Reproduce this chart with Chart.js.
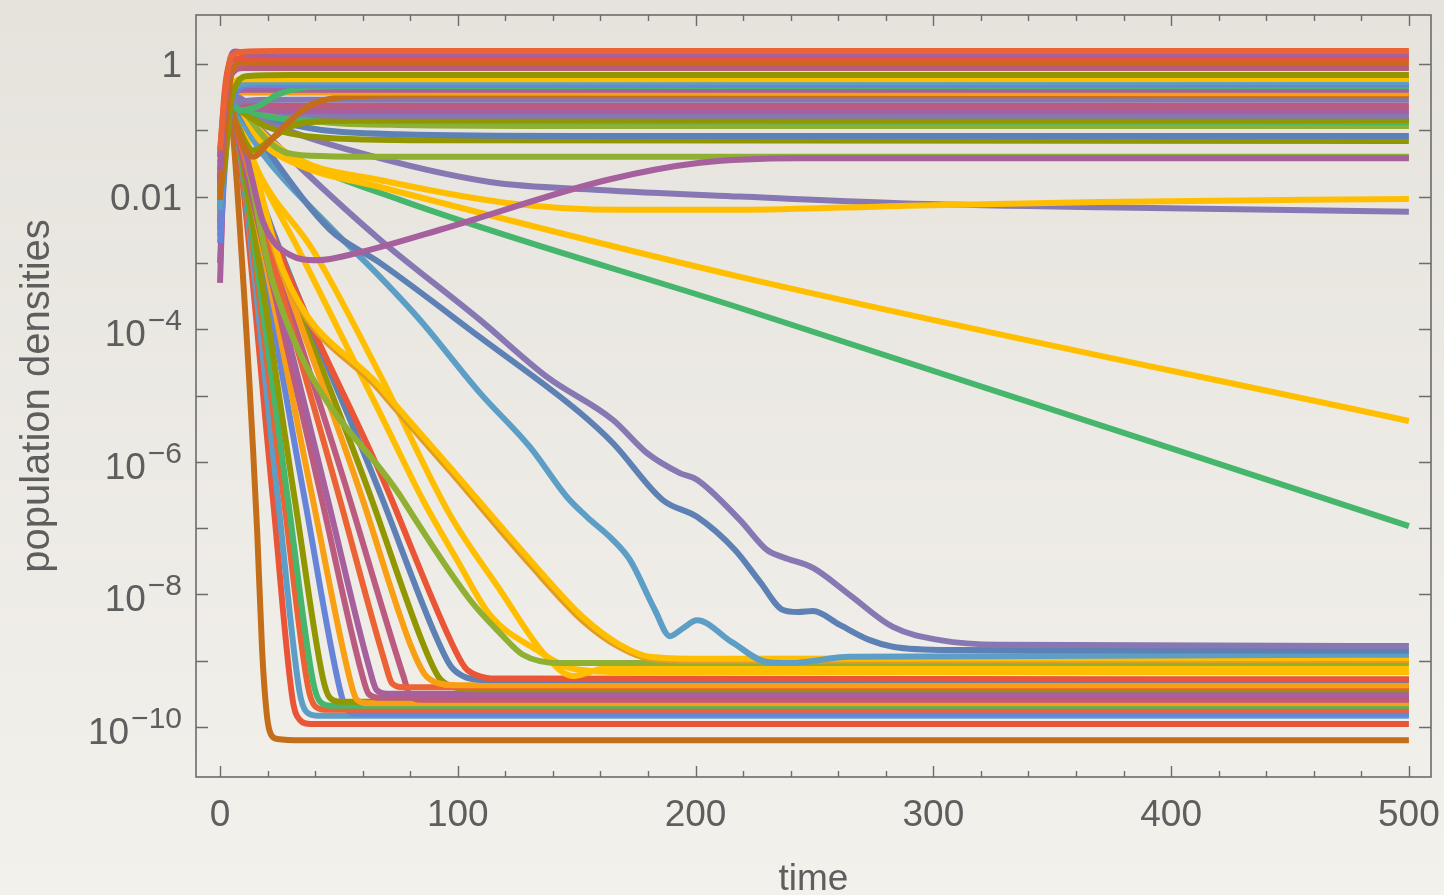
<!DOCTYPE html>
<html>
<head>
<meta charset="utf-8">
<script src="https://cdn.jsdelivr.net/npm/chart.js@4.4.1/dist/chart.umd.min.js"></script>
<style>
  html, body { margin: 0; padding: 0; background: #eeebe6; }
  canvas { display: block; }
</style>
</head>
<body>
<canvas id="popChart" width="1444" height="895"></canvas>
<script>
// DATA: each series is a list of [time, log10(population density)]

// y tick labels (decades) and x tick labels
const yTickExps = [0, -2, -4, -6, -8, -10];
const xTicks = [0, 100, 200, 300, 400, 500];

// survivors (top plateau)
const s01 = [[0,-1.3],[2,-0.5],[4.5,0.1],[9,0.18],[25,0.196],[500,0.196]];
const s02 = [[0,-1.6],[2,-0.6],[4.5,0.1],[6.3,0.19],[12,0.15],[30,0.136],[500,0.136]];
const s20 = [[0,-1.4],[2,-0.4],[4.5,0.05],[10,0.09],[500,0.09]];
const s03 = [[0,-2.05],[2.5,-0.9],[5,-0.1],[9,0.02],[20,0.03],[500,0.03]];
const s04 = [[0,-1.75],[2.5,-0.7],[5,-0.15],[10,-0.06],[500,-0.06]];
const s05 = [[0,-1.95],[2,-1.5],[4.5,-0.6],[7.5,-0.27],[12,-0.18],[30,-0.166],[500,-0.166]];
const s06 = [[0,-1.6],[2,-0.8],[5,-0.3],[10,-0.23],[500,-0.226]];
const s07 = [[0,-2.2],[2.5,-1.0],[5,-0.45],[10,-0.3],[20,-0.27],[500,-0.27]];
const s23 = [[0,-2.7],[3,-1.1],[6,-0.5],[12,-0.32],[500,-0.30]];
const s08 = [[0,-2.2],[3,-0.5],[8,-0.7],[15,-0.65],[25,-0.45],[40,-0.34],[60,-0.33],[500,-0.33]];
const s09 = [[0,-1.8],[2.5,-0.9],[5,-0.45],[10,-0.39],[500,-0.39]];
const s22 = [[0,-2.1],[2.5,-0.8],[5,-0.4],[10,-0.43],[500,-0.44]];
const s10 = [[0,-1.8],[3,-0.45],[7,-0.95],[11,-1.3],[14,-1.4],[20,-1.2],[28.2,-0.9],[38,-0.62],[55,-0.49],[80,-0.47],[500,-0.47]];
const s11 = [[0,-2.4],[2.5,-1.2],[5,-0.7],[10,-0.56],[25,-0.54],[500,-0.54]];
const s12 = [[0,-1.5],[2.5,-0.7],[5,-0.55],[10,-0.6],[25,-0.63],[500,-0.63]];
const s13 = [[0,-2.0],[2.5,-0.8],[5,-0.55],[12,-0.65],[30,-0.71],[500,-0.71]];
const s14 = [[0,-1.7],[2.5,-0.6],[5,-0.45],[12,-0.6],[30,-0.75],[60,-0.78],[500,-0.78]];
const s15 = [[0,-1.4],[3,-0.5],[7,-0.9],[14,-1.3],[21,-1.15],[29,-0.95],[45,-0.86],[70,-0.845],[500,-0.845]];
const s21 = [[0,-2.5],[3,-0.9],[6,-0.6],[15,-0.75],[40,-0.86],[500,-0.875]];
const s16 = [[0,-2.3],[3,-0.6],[6,-0.5],[12.6,-0.65],[30,-0.82],[75,-0.92],[150,-0.935],[500,-0.935]];
const s17 = [[0,-1.9],[3,-0.55],[8.4,-0.54],[20,-0.8],[40,-0.98],[76,-1.06],[150,-1.085],[500,-1.086]];
const s18 = [[0,-2.0],[3,-0.6],[8,-0.7],[20,-0.95],[40,-1.1],[90,-1.15],[500,-1.16]];
const s19 = [[0,-2.2],[3,-0.5],[7.1,-0.54],[13,-0.85],[19.8,-1.15],[28.2,-1.34],[45,-1.39],[80,-1.40],[500,-1.40]];

// slow movers in the middle
const purpleDip = [[0,-3.3],[2.5,-0.84],[8.4,-1.0],[12.6,-1.6],[18.1,-2.38],[29.4,-2.88],[40.8,-2.96],[57.7,-2.85],[92.5,-2.5],[162.7,-1.75],[201.9,-1.49],[243.9,-1.42],[307,-1.42],[500,-1.42]];
const lavSlow = [[0,-2.05],[3.8,-0.39],[8.4,-0.62],[25.2,-0.95],[54.7,-1.3],[113.5,-1.78],[159.8,-1.9],[218.7,-2.0],[286,-2.1],[370,-2.16],[500,-2.23]];
const yellowFlat = [[0,-1.6],[3.4,-0.32],[8.4,-0.54],[16.8,-1.0],[33.6,-1.45],[67.3,-1.75],[120.7,-2.095],[168.2,-2.2],[218.7,-2.2],[286,-2.14],[370,-2.08],[500,-2.036]];
const yellowSlope = [[0,-1.9],[3.8,-0.36],[8.4,-0.66],[16.8,-1.15],[33.6,-1.53],[67.3,-1.855],[218.7,-3.21],[500,-5.385]];
const greenSlope = [[0,-2.5],[3.4,-0.47],[8.4,-0.69],[14.7,-0.995],[33.6,-1.45],[75.7,-2.05],[218.7,-3.68],[500,-6.97]];

// wiggly decays that end on the floor
const lightBlueWig = [[0,-2.2],[3.4,-0.54],[8.4,-0.81],[16.8,-1.3],[47.5,-2.5],[67.3,-3.21],[84.1,-3.86],[109.3,-4.96],[130.4,-5.78],[145.9,-6.53],[154.3,-6.83],[165.3,-7.18],[172.4,-7.48],[182.9,-8.235],[189.2,-8.63],[194.7,-8.51],[200.6,-8.39],[215.3,-8.72],[230,-9.02],[239.7,-9.035],[264.9,-8.94],[500,-8.91]];
const blueWig = [[0,-1.9],[3.8,-0.47],[8.4,-0.72],[16.8,-1.15],[46.3,-2.5],[67.3,-3.0],[109.3,-4.12],[151.4,-5.26],[165.3,-5.72],[186.3,-6.58],[200.6,-6.83],[216.6,-7.33],[227.1,-7.81],[236.8,-8.235],[243.1,-8.265],[249.4,-8.25],[260.7,-8.46],[273.3,-8.69],[283,-8.79],[307,-8.84],[500,-8.85]];
const lavWig = [[0,-2.05],[3.8,-0.42],[8.4,-0.66],[21,-1.12],[46.3,-1.98],[67.3,-2.65],[109.3,-3.86],[137.5,-4.72],[165.3,-5.37],[179.6,-5.87],[193.4,-6.17],[200.6,-6.27],[218.7,-6.88],[230,-7.33],[236.8,-7.44],[249.4,-7.6],[264.9,-8.01],[283,-8.49],[302.8,-8.69],[328,-8.76],[500,-8.78]];

// medium decays
const greenMid = [[0,-2.05],[3.4,-0.47],[7.6,-0.845],[22.3,-3.3],[77,-6.58],[105.1,-8.08],[117.7,-8.58],[127.4,-8.91],[143,-9.035],[500,-9.035]];
const yellowDip = [[0,-2.49],[3.8,-0.3],[8.4,-0.92],[16.8,-1.675],[39.1,-2.81],[67.3,-4.69],[96.7,-6.8],[117.7,-7.93],[136.7,-8.915],[148.4,-9.23],[161.9,-9.11],[185,-9.08],[500,-9.08]];
const yellowMid = [[0,-1.6],[4.2,-0.39],[10.5,-1.15],[33.6,-2.84],[67.3,-5.265],[85.4,-6.58],[99.7,-7.48],[113.5,-8.31],[133.3,-8.84],[147.2,-9.11],[168.2,-9.17],[500,-9.17]];
const orangePair = [[0,-2.3],[4.2,-0.38],[12.6,-1.36],[26.5,-3.16],[67.3,-4.93],[96.7,-6.14],[130.4,-7.55],[152.6,-8.4],[168.2,-8.8],[180.8,-8.97],[201.9,-9.0],[500,-8.99]];
const yellowPair = [[0,-1.75],[4.2,-0.32],[12.6,-1.3],[26.5,-3.11],[67.3,-4.87],[96.7,-6.08],[130.4,-7.48],[152.6,-8.34],[168.2,-8.76],[180.8,-8.94],[201.9,-8.97],[500,-8.96]];

// fast extinctions (floor near 1e-10)
const e00 = [[0,-2.3],[2.5,-0.6],[4.5,-0.75],[8.4,-2.5],[15.6,-7.03],[17.7,-8.84],[19.8,-9.85],[21.5,-10.12],[24,-10.18],[35,-10.2],[500,-10.2]];
const e01 = [[0,-2.0],[3.4,-0.45],[6.7,-0.95],[22.3,-6.58],[30.5,-9.58],[33.5,-9.89],[38.1,-9.955],[500,-9.955]];
const e02 = [[0,-2.2],[3.4,-0.4],[6.7,-0.9],[24.4,-6.58],[33.4,-9.46],[36.3,-9.77],[41,-9.83],[500,-9.83]];
const e06 = [[0,-1.9],[3.4,-0.4],[6.7,-0.92],[35.7,-6.58],[50.4,-9.43],[53.3,-9.74],[57.9,-9.8],[500,-9.8]];
const e03 = [[0,-1.7],[3.4,-0.35],[6.7,-0.9],[26.9,-6.58],[36.9,-9.37],[39.8,-9.68],[44.4,-9.74],[500,-9.74]];
const e04 = [[0,-2.6],[3.4,-0.5],[6.7,-0.95],[28.6,-6.58],[39.1,-9.31],[42.1,-9.62],[46.7,-9.68],[500,-9.68]];
const e05 = [[0,-2.1],[3.4,-0.45],[6.7,-0.92],[31.5,-6.58],[43.2,-9.25],[46.2,-9.56],[50.8,-9.62],[500,-9.62]];
const e07 = [[0,-2.4],[3.4,-0.35],[6.7,-0.85],[39.1,-6.58],[54.5,-9.26],[57.4,-9.58],[62,-9.64],[500,-9.64]];
const e11 = [[0,-2.5],[3.4,-0.45],[6.7,-0.95],[54.7,-6.58],[77,-9.22],[80,-9.53],[84.6,-9.59],[500,-9.59]];
const e08 = [[0,-3.0],[3.4,-0.55],[6.7,-1.0],[42.9,-6.58],[59.6,-9.19],[62.5,-9.5],[67.2,-9.56],[500,-9.56]];
const e09 = [[0,-2.2],[3.4,-0.5],[6.7,-0.95],[45.4,-6.58],[62.9,-9.125],[65.8,-9.44],[70.4,-9.5],[500,-9.5]];
const e13 = [[0,-2.3],[3.4,-0.5],[6.7,-0.95],[63.9,-6.58],[86,-8.8],[92,-9.25],[97,-9.38],[106,-9.43],[500,-9.43]];
const e10 = [[0,-1.8],[3.4,-0.4],[6.7,-0.9],[50.5,-6.58],[69.3,-9.02],[72.3,-9.34],[76.9,-9.4],[500,-9.4]];
const e12 = [[0,-2.0],[3.4,-0.4],[6.7,-0.9],[60.1,-6.58],[80,-8.75],[86,-9.2],[91,-9.33],[100,-9.37],[500,-9.37]];
const e14 = [[0,-1.9],[3.4,-0.45],[6.7,-0.9],[68.5,-6.58],[91,-8.65],[97,-9.08],[102,-9.23],[110,-9.29],[500,-9.29]];
const e15 = [[0,-2.1],[3.4,-0.4],[6.7,-0.92],[72.3,-6.58],[97,-8.7],[103,-9.1],[108,-9.22],[116,-9.27],[500,-9.28]];

// drawing list, bottom layer first
const seriesList = [
  [e00, '#C56E1A'], [e01, '#E95536'], [e02, '#5D9EC7'], [e06, '#6685D9'], [e03, '#EB6235'],
  [e04, '#47B66D'], [e05, '#929600'], [e07, '#F89F13'], [e11, '#BC5B80'], [e08, '#BC5B80'],
  [e09, '#A5609D'], [e13, '#929600'], [e10, '#EB6235'], [e12, '#F89F13'], [e14, '#5E81B5'],
  [e15, '#E95536'],
  [yellowMid, '#FFBF00'], [yellowDip, '#FFBF00'], [greenMid, '#8FB032'],
  [orangePair, '#E19C24'], [yellowPair, '#FFBF00'],
  [lightBlueWig, '#5D9EC7'], [blueWig, '#5E81B5'], [lavWig, '#8778B3'],
  [greenSlope, '#47B66D'], [yellowSlope, '#FFBF00'], [lavSlow, '#8778B3'], [yellowFlat, '#FFBF00'],
  [s19, '#8FB032'], [purpleDip, '#A5609D'],
  [s18, '#929600'], [s17, '#5E81B5'], [s16, '#8FB032'], [s21, '#47B66D'], [s15, '#929600'],
  [s14, '#8778B3'], [s13, '#A5609D'], [s12, '#BC5B80'], [s11, '#8778B3'], [s10, '#C56E1A'],
  [s22, '#F89F13'], [s09, '#A5609D'], [s08, '#47B66D'], [s23, '#6685D9'], [s07, '#5D9EC7'],
  [s06, '#FFBF00'], [s05, '#929600'], [s04, '#BC5B80'], [s03, '#C56E1A'], [s20, '#E95536'],
  [s02, '#A5609D'], [s01, '#EB6235']
];

const textGray = '#5e5e5e';
const fontFamily = '"Liberation Sans", Arial, sans-serif';
const axisFont = { family: fontFamily, size: 37 };

// paper background, frame, inward ticks and the 10^n labels
const paperFrame = {
  id: 'paperFrame',
  beforeDraw(chart) {
    const { ctx, width, height } = chart;
    const g = ctx.createLinearGradient(0, 0, 0, height);
    g.addColorStop(0, '#e6e3dd');
    g.addColorStop(1, '#f3f1ec');
    ctx.save();
    ctx.fillStyle = g;
    ctx.fillRect(0, 0, width, height);
    ctx.restore();
  },
  afterDraw(chart) {
    const { ctx, chartArea: a, scales: { x, y } } = chart;
    ctx.save();
    ctx.strokeStyle = '#6c6c6c';
    ctx.lineWidth = 1.6;
    ctx.strokeRect(a.left, a.top, a.right - a.left, a.bottom - a.top);
    ctx.lineWidth = 1.4;
    ctx.beginPath();
    for (let t = 0; t <= 500; t += 20) {
      const px = Math.round(x.getPixelForValue(t)) + 0.5;
      const len = t % 100 === 0 ? 11 : 6;
      ctx.moveTo(px, a.bottom); ctx.lineTo(px, a.bottom - len);
      ctx.moveTo(px, a.top); ctx.lineTo(px, a.top + len);
    }
    for (let e = -10; e <= 0; e++) {
      const py = Math.round(y.getPixelForValue(10 ** e)) + 0.5;
      ctx.moveTo(a.left, py); ctx.lineTo(a.left + 12, py);
      ctx.moveTo(a.right, py); ctx.lineTo(a.right - 12, py);
    }
    ctx.stroke();

    // y labels with a real superscript exponent
    ctx.fillStyle = textGray;
    ctx.textAlign = 'right';
    ctx.textBaseline = 'alphabetic';
    const right = a.left - 14;
    for (const e of yTickExps) {
      const py = y.getPixelForValue(10 ** e);
      ctx.font = `37px ${fontFamily}`;
      if (e === 0 || e === -2) {
        ctx.fillText(e === 0 ? '1' : '0.01', right, py + 13);
      } else {
        const ex = '\u2212' + String(-e);
        ctx.font = `30px ${fontFamily}`;
        ctx.fillText(ex, right, py + 1);
        const w = ctx.measureText(ex).width;
        ctx.font = `37px ${fontFamily}`;
        ctx.fillText('10', right - w - 2, py + 17);
      }
    }
    ctx.restore();
  }
};

const datasets = seriesList.map(([pts, color], i) => ({
  data: pts.map(([t, lg]) => ({ x: t, y: 10 ** lg })),
  borderColor: color,
  backgroundColor: color,
  borderWidth: 6,
  pointRadius: 0,
  fill: false,
  cubicInterpolationMode: 'monotone',
  borderCapStyle: 'butt',
  borderJoinStyle: 'round',
  order: -i
}));

new Chart(document.getElementById('popChart'), {
  type: 'line',
  data: { datasets },
  plugins: [paperFrame],
  options: {
    responsive: false,
    animation: false,
    devicePixelRatio: 1,
    layout: { padding: { top: 15, right: 13, left: 0, bottom: 0 } },
    plugins: { legend: { display: false }, tooltip: { enabled: false } },
    scales: {
      x: {
        type: 'linear',
        min: -10.1,
        max: 509.3,
        bounds: 'data',
        grid: { display: false, drawTicks: false },
        border: { display: false },
        afterBuildTicks: s => { s.ticks = xTicks.map(v => ({ value: v })); },
        afterFit: s => { s.height = 118; s.paddingLeft = 0; s.paddingRight = 0; },
        ticks: { color: textGray, font: axisFont, padding: 17, maxRotation: 0, autoSkip: false },
        title: {
          display: true, text: 'time', color: textGray,
          font: { ...axisFont, lineHeight: 0.8 }, padding: { top: 0, bottom: 0 }
        }
      },
      y: {
        type: 'logarithmic',
        min: 10 ** -10.754,
        max: 10 ** 0.739,
        bounds: 'data',
        grid: { display: false, drawTicks: false },
        border: { display: false },
        afterBuildTicks: s => { s.ticks = yTickExps.map(e => ({ value: 10 ** e })); },
        afterFit: s => { s.width = 196; s.paddingTop = 0; s.paddingBottom = 0; },
        ticks: { display: false },
        title: {
          display: true, text: 'population densities', color: textGray,
          font: { family: fontFamily, size: 40, lineHeight: 1.2 }, padding: { top: 14, bottom: 0 }
        }
      }
    }
  }
});
</script>
</body>
</html>
